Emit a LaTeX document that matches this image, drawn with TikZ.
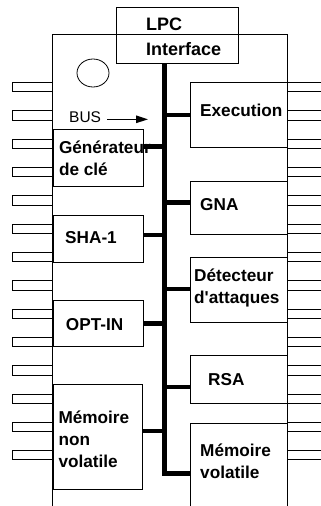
\documentclass[tikz,border=0pt]{standalone}
\usepackage{fontspec}
\setmainfont{Liberation Sans}
\usetikzlibrary{arrows.meta}

\begin{document}
\begin{tikzpicture}[
    x=1pt, y=-1pt,
    outline/.style={draw, line width=0.9pt},
    pin/.style={draw, line width=0.9pt},
    unitbox/.style={draw, line width=0.9pt, anchor=north west, inner sep=0pt},
    lbl/.style={anchor=base west, inner sep=0pt, align=left,
      font=\fontsize{17.2}{22}\selectfont\bfseries},
    lpclbl/.style={anchor=base west, inner sep=0pt,
      font=\fontsize{18}{22}\selectfont\bfseries},
    busline/.style={line width=4.7pt, line join=miter},
    busarrow/.style={-{Triangle[length=12pt, width=7.5pt]}, line width=1.3pt},
]
\clip (0,0) rectangle (321,506);

% Chip body and pins
\draw[outline] (52.7,34.5) rectangle (287,530);
\foreach \k in {0,...,13} {
  \draw[pin] (12.3,{82.35+28.33*\k}) rectangle (52.7,{91.65+28.33*\k});
  \draw[pin] (287,{82.35+28.33*\k}) rectangle (330,{91.65+28.33*\k});
}
\draw[line width=0.8pt] (93,73) ellipse [x radius=16pt, y radius=14pt];

% LPC interface
\node[unitbox, minimum width=122pt, minimum height=56pt] (lpc) at (116,7.3) {};
\node[lpclbl] (lpc1) at (146,30.7) {LPC};
\node[lpclbl] (lpc2) at (146,55) {Interface};

% Left blocks
\node[unitbox, minimum width=90pt, minimum height=56.7pt] (gen) at (52.7,129.3) {};
\node[unitbox, minimum width=90pt, minimum height=46.7pt] (sha) at (52.7,215) {};
\node[unitbox, minimum width=90pt, minimum height=46pt] (opt) at (52.7,300) {};
\node[unitbox, minimum width=89pt, minimum height=104.4pt] (mnv) at (52.7,384.3) {};

% Right blocks
\node[unitbox, minimum width=97pt, minimum height=65pt] (exe) at (190,82.3) {};
\node[unitbox, minimum width=97pt, minimum height=53.6pt] (gna) at (190,180.7) {};
\node[unitbox, minimum width=97pt, minimum height=64.4pt] (det) at (190,257.3) {};
\node[unitbox, minimum width=97pt, minimum height=48.3pt] (rsa) at (190,355) {};
\node[unitbox, minimum width=97pt, minimum height=100pt] (mv) at (190,422.7) {};

% Labels (base = last line)
\node[lbl] (genlbl) at (58.8,175.3) {Générateur\\de clé};
\node[lbl] (shalbl) at (65,243.3) {SHA-1};
\node[lbl] (optlbl) at (65.7,330.7) {OPT-IN};
\node[lbl] (mnvlbl) at (58.3,467.5) {Mémoire\\non\\volatile};
\node[lbl] (exelbl) at (200,116.7) {Execution};
\node[lbl] (gnalbl) at (200,210.7) {GNA};
\node[lbl] (detlbl) at (194,303.5) {Détecteur\\d\textquotesingle attaques};
\node[lbl] (rsalbl) at (208,385.3) {RSA};
\node[lbl] (mvlbl) at (200,478.7) {Mémoire\\volatile};
\node[anchor=base west, inner sep=0pt, font=\fontsize{15.5}{18}\selectfont] (buslbl) at (69,122.3) {BUS};

% Bus
\coordinate (bustop) at (164.3,63.3);
\coordinate (busend) at (164.3,473.7);
\draw[busline] (bustop) -- (busend) -- (mv.west |- busend);
\foreach \b/\a/\y in {exe/west/115, gen/east/146.7, gna/west/202.3, sha/east/235,
    det/west/289, opt/east/323.3, rsa/west/387, mnv/east/431}
  \draw[busline] (bustop |- 0,\y) -- (\b.\a |- 0,\y);

% Bus arrow
\coordinate (busfrom) at (107,119.3);
\coordinate (busto) at (148,119.3);
\draw[busarrow] (busfrom) -- (busto);

\end{tikzpicture}
\end{document}
